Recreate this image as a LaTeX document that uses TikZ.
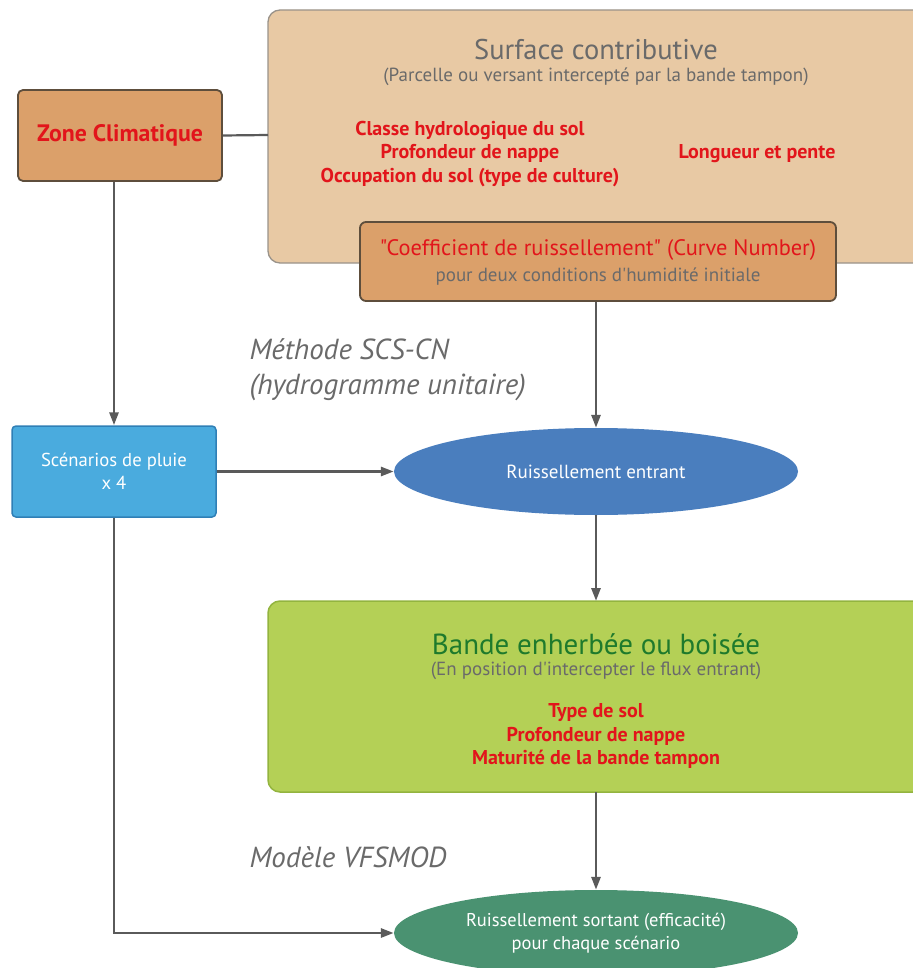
\documentclass[tikz,border=0pt]{standalone}
\usepackage{fontspec}
\setmainfont{PT Sans}[Ligatures=TeXOff]
\usetikzlibrary{shapes.geometric,arrows.meta}
\definecolor{tanfill}{HTML}{E8C9A4}
\definecolor{tanedge}{HTML}{9A938A}
\definecolor{orfill}{HTML}{DBA06A}
\definecolor{oredge}{HTML}{5E4E3C}
\definecolor{redtxt}{HTML}{E2151B}
\definecolor{greytxt}{HTML}{6A6A6A}
\definecolor{bluefill}{HTML}{4AABDE}
\definecolor{blueedge}{HTML}{2F7FB6}
\definecolor{ellblue}{HTML}{4A7EBE}
\definecolor{greenfill}{HTML}{B4D056}
\definecolor{greenedge}{HTML}{93B43F}
\definecolor{greentxt}{HTML}{1E7A2C}
\definecolor{ellgreen}{HTML}{4A9271}
\definecolor{linegrey}{HTML}{5A5A5A}
\tikzset{
  conn/.style={draw=linegrey, line width=2.8pt},
  arr/.style={conn, -{Triangle[length=13pt,width=9pt]}},
  redlbl/.style={text=redtxt, font=\fontsize{20}{23.5}\selectfont\bfseries, align=center},
  itlbl/.style={text=greytxt, font=\fontsize{29}{35}\selectfont\itshape, anchor=west, align=left},
}
\begin{document}
\begin{tikzpicture}[x=1pt,y=-1pt]
\useasboundingbox (0,0) rectangle (912,968);
% Surface contributive
\draw[fill=tanfill, draw=tanedge, line width=1.3pt, rounded corners=12pt] (268,10) rectangle (925,263);
\node (surf) at (596,50) {\color{greytxt}\fontsize{28.5}{32}\selectfont Surface contributive};
\node at (596,77) {\color{greytxt}\fontsize{19}{22}\selectfont (Parcelle ou versant intercepté par la bande tampon)};
\node[redlbl] at (470,154) {Classe hydrologique du sol\\Profondeur de nappe\\Occupation du sol (type de culture)};
\node[redlbl] at (757,154) {Longueur et pente};
\coordinate (surfleft) at (268,135);
% Zone climatique
\node[draw=oredge, fill=orfill, line width=1.8pt, rounded corners=5pt, minimum width=204pt, minimum height=91pt, text=redtxt, font=\fontsize{23.8}{26}\selectfont\bfseries] (zone) at (120,135.5) {Zone Climatique};
% Coefficient
\node[draw=oredge, fill=orfill, line width=1.8pt, rounded corners=6pt, minimum width=476pt, minimum height=79pt, align=center] (coef) at (598,261.5) {};
\node at (598,250) {\color{redtxt}\fontsize{22.4}{26}\selectfont "Coefficient de ruissellement" (Curve Number)};
\node at (598,277) {\color{greytxt}\fontsize{19}{22}\selectfont pour deux conditions d'humidité initiale};
% Scenarios
\node[draw=blueedge, fill=bluefill, line width=1.5pt, rounded corners=4pt, minimum width=204pt, minimum height=91pt, text=white, align=center, font=\fontsize{18.7}{23}\selectfont] (scen) at (114,471.5) {Scénarios de pluie\\x 4};
% Ruissellement entrant
\node[ellipse, fill=ellblue, inner sep=0pt, minimum width=404pt, minimum height=87pt, text=white, font=\fontsize{19}{22}\selectfont] (rent) at (596,471.5) {Ruissellement entrant};
% Bande enherbee
\draw[fill=greenfill, draw=greenedge, line width=1.5pt, rounded corners=12pt] (268,601) rectangle (925,792);
\coordinate (bandtop) at (596,601);
\coordinate (bandbot) at (596,792);
\node at (596,644) {\color{greentxt}\fontsize{29}{32}\selectfont Bande enherbée ou boisée};
\node at (596,671) {\color{greytxt}\fontsize{19}{22}\selectfont (En position d'intercepter le flux entrant)};
\node[redlbl] at (596,736) {Type de sol\\Profondeur de nappe\\Maturité de la bande tampon};
% Ruissellement sortant
\node[ellipse, fill=ellgreen, inner sep=0pt, minimum width=404pt, minimum height=86pt, text=white, align=center, font=\fontsize{18.5}{23}\selectfont] (rsort) at (596,933) {Ruissellement sortant (efficacité)\\pour chaque scénario};
% Italic labels
\node[itlbl] at (246,370) {Méthode SCS-CN\\(hydrogramme unitaire)};
\node[itlbl] at (246,857) {Modèle VFSMOD};
% Connectors
\draw[conn, line width=2.2pt] (zone.east) -- (surfleft);
\draw[arr] (zone.south -| scen.north) -- (scen.north);
\draw[arr] (coef.south -| rent.north) -- (rent.north);
\draw[arr] (scen.east) -- (rent.west);
\draw[arr] (rent.south) -- (bandtop);
\draw[arr] (bandbot) -- (rsort.north);
\draw[arr] (scen.south) |- (rsort.west);
\end{tikzpicture}
\end{document}
